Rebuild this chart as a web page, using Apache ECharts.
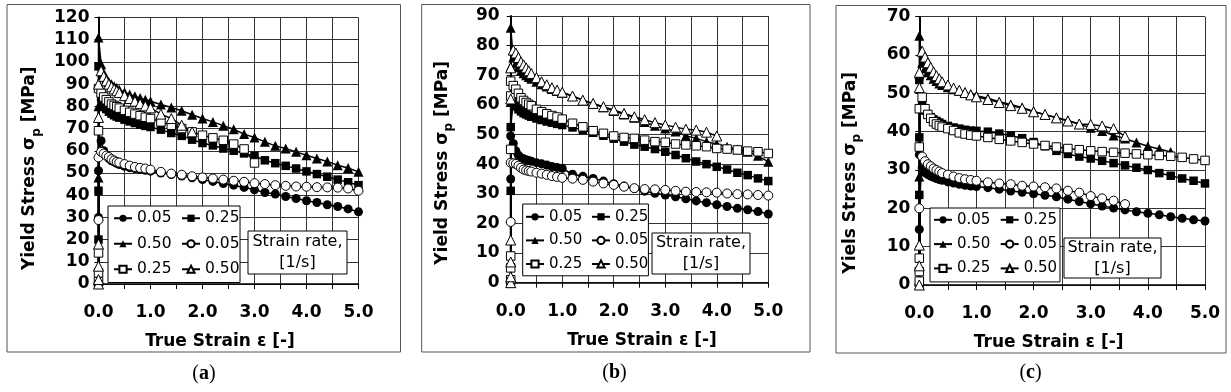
<!DOCTYPE html>
<html>
<head>
<meta charset="utf-8">
<script src="https://cdn.jsdelivr.net/npm/echarts@6/dist/echarts.min.js"></script>
<style>html,body{margin:0;padding:0;background:#fff;}#c{width:1231px;height:392px;}</style>
</head>
<body>
<div id="c"></div>
<script>
// Shared strain grid for the plastic part of every curve
const strainGrid = [0.05,0.1,0.15,0.2,0.25,0.3,0.35,0.4,0.5,0.6,0.7,0.8,0.9,1.0,1.2,1.4,1.6,1.8,2.0,2.2,2.4,2.6,2.8,3.0,3.2,3.4,3.6,3.8,4.0,4.2,4.4,4.6,4.8,5.0];
const legendLabels = ['0.05','0.25','0.50','0.05','0.25','0.50'];
const xTicks = [0,1,2,3,4,5];
const yMaxA = 120, yMaxB = 90, yMaxC = 70;
const yTitles = ['Yield Stress σ', 'Yield Stress σ', 'Yiels Stress σ'];
const panelLetters = ['a','b','c'];

// Panel (a): stress at strain 0 (elastic ramp) and along strainGrid
const aRamp_f005 = [0, 30, 51];
const aCurve_f005 = [64.5,60,58,56.5,55.5,55,54.3,53.8,53,52.4,52,51.6,51.2,50.8,50,49.3,48.6,47.8,47,46.2,45.2,44.5,43.5,42.4,41.2,40.5,39.4,38.5,37.5,36.7,35.7,34.9,33.8,32.5];
const aRamp_f025 = [0, 20, 42, 98];
const aCurve_f025 = [84,80.5,78.8,77.6,76.7,76,75.4,74.9,74,73.2,72.5,71.8,71.2,70.7,69.5,68,66.7,65,63.5,62.4,61,60,58.8,57.7,55.7,54.4,53.2,52,50.7,49.5,48.3,47,45.8,44.5];
const aRamp_f050 = [0, 31, 48, 80, 111];
const aCurve_f050 = [99,95,92.5,91,90,89,88.2,87.5,86.3,85.3,84.5,83.7,83,82.3,80.8,79.5,78,76.2,74.5,73,71.3,69.7,67.5,66,64,62.2,61,59.5,58,56.5,55.2,53.5,52.2,50.5];
const aRamp_o005 = [0, 28.8, 57];
const aCurve_o005 = [59.5,58.7,57.8,57.2,56.2,55.6,55,54.7,54,53.3,52.7,52.3,52,51.5,50.5,49.7,49.2,48.5,48,47.5,47,46.5,46,45.4,45,44.5,44.2,43.9,43.8,43.6,43.5,43.4,43,42];
const aRamp_o025 = [1, 5, 14, 69, 88];
const aCurve_o025 = [86,84.2,83,82,81,80.4,79.8,79.2,78.2,77.3,76.5,75.8,75.1,74.5,73,71.5,70,68.5,67,65.8,64.7,63,60.8,54.5];
const aRamp_o050 = [0, 2, 8, 18, 75, 90];
const aCurve_o050 = [96,93.5,91.5,90,88.8,87.8,87,86.2,84.8,83.5,82.3,81.2,80.2,79.3,76.5,74.5,71.5,68.5];

// Panel (b)
const bRamp_f005 = [0, 35, 49.5];
const bCurve_f005 = [47,44.5,43,42.2,41.8,41.5,41.2,41,40.5,40.1,39.7,39.2,38.9,38.6,36.6,35.9,35.2,34.3,33.4,32.6,31.8,30.9,30.2,29.6,29,28.3,27.6,27,26.3,25.7,25.1,24.6,24,23.2];
const bRamp_f025 = [0, 31, 52.5];
const bCurve_f025 = [61,59.5,58.5,57.8,57.2,56.8,56.4,56,55.4,54.9,54.4,54,53.6,53.2,52.4,51.5,50.6,49.6,48.6,47.6,46.6,45.9,45.1,44.2,43.1,42,40.9,40,39.1,38.2,37.1,36.3,35.2,34.3];
const bRamp_f050 = [0, 61, 73, 86];
const bCurve_f050 = [76,74,72.7,71.5,70.7,70,69.4,68.8,67.8,67,66.2,65.4,64.7,64,63,61.6,60.3,59.2,57.9,56.8,55.7,54.2,53,52,51,49.6,48.7,47.6,46.8,45.9,45,44.2,42.8,40.8];
const bRamp_o005 = [0, 20.5, 40.5];
const bCurve_o005 = [40.3,40.1,39.5,38.8,38.2,37.9,37.7,37.5,37.1,36.8,36.4,36,35.7,35.4,35.1,34.7,34.1,33.5,33,32.4,31.9,31.6,31.5,31.3,31,30.7,30.6,30.5,30.4,30.1,29.9,29.8,29.6,29.4];
const bRamp_o025 = [1, 5, 9, 45, 63, 68];
const bCurve_o025 = [66.5,65.3,63.9,62.4,61.5,60.8,60.2,59.7,58.5,57.7,57,56.4,55.9,55.2,53.8,52.6,51.3,50.4,49.5,49,48.7,48.1,47.6,47.4,46.8,46.5,46.2,45.9,45.3,45.1,44.8,44.4,44.2,43.6];
const bRamp_o050 = [0, 2, 7, 14.4, 62, 72.5];
const bCurve_o050 = [78.5,77.5,76,74.5,73.5,72.5,71.5,70.6,69.2,67.8,66.8,65.8,65,64.3,63,61.6,60.5,59.4,58.3,57.1,56,55,54,53.2,52.5,51.8,51.5,50.8,49.5];

// Panel (c)
const cRamp_f005 = [0, 14.5, 34];
const cCurve_f005 = [30.5,29.3,28.8,28.4,28.1,27.8,27.5,27.3,26.9,26.6,26.3,26,25.8,25.7,25.4,25,24.5,24.2,23.8,23.4,23,22.4,21.8,21.2,20.6,20.1,19.6,19.1,18.7,18.3,17.8,17.4,17,16.7];
const cRamp_f025 = [0, 23.5, 38.5, 53.5];
const cCurve_f025 = [47,45.5,44.5,43.8,43.2,42.8,42.4,42,41.5,41.1,40.8,40.5,40.3,40.2,40,39.5,39,38.3,37.3,36.2,35,34.2,33.5,33,32.4,31.8,31.2,30.6,30,29.2,28.5,27.8,27.2,26.5];
const cRamp_f050 = [0, 28.3, 55, 65];
const cCurve_f050 = [58,56.5,55.5,54.7,53.8,53.2,52.6,52.2,51.6,51.1,50.7,50.2,49.8,49.4,48.7,47.8,47.1,46.3,45.3,44.4,43.7,42.9,42,41,40.2,39,38.2,37.2,36.2,35.5,34.7];
const cRamp_o005 = [0, 20];
const cCurve_o005 = [33.5,32.3,31.5,31,30.4,30,29.6,29.2,28.8,28.3,27.9,27.6,27.4,27.2,26.8,26.5,26.3,25.9,25.7,25.5,25.2,24.6,24.1,23.2,22.6,22,21.1];
const cRamp_o025 = [1, 3.5, 7, 36, 46];
const cCurve_o025 = [49,46,44.5,43.5,42.6,42,41.6,41.2,40.8,40.3,39.7,39.4,39.1,38.9,38.5,38,37.6,37.2,36.8,36.4,36,35.6,35.3,35,34.8,34.6,34.4,34.2,34,33.8,33.6,33.3,32.9,32.5];
const cRamp_o050 = [0, 5, 10.4, 51.5, 55.5];
const cCurve_o050 = [61,59.5,58,56.8,55.6,54.6,53.8,53,52.2,51.4,50.8,50.2,49.6,49.1,48.4,47.6,46.8,46.1,45.2,44.5,43.6,42.8,42,41.9,41.5,40.8,38.8];

// ---------- build ----------
function buildData(ramp, curve) {
  return ramp.map(v => [0, v]).concat(curve.map((v, i) => [strainGrid[i], v]));
}
const panels = [
  {ramps:[aRamp_f005,aRamp_f025,aRamp_f050,aRamp_o005,aRamp_o025,aRamp_o050],
   curves:[aCurve_f005,aCurve_f025,aCurve_f050,aCurve_o005,aCurve_o025,aCurve_o050], ymax:yMaxA},
  {ramps:[bRamp_f005,bRamp_f025,bRamp_f050,bRamp_o005,bRamp_o025,bRamp_o050],
   curves:[bCurve_f005,bCurve_f025,bCurve_f050,bCurve_o005,bCurve_o025,bCurve_o050], ymax:yMaxB},
  {ramps:[cRamp_f005,cRamp_f025,cRamp_f050,cRamp_o005,cRamp_o025,cRamp_o050],
   curves:[cCurve_f005,cCurve_f025,cCurve_f050,cCurve_o005,cCurve_o025,cCurve_o050], ymax:yMaxC}
];

// layout
const gridsPx = [
  {left:98.5, top:17.5, width:260, height:266.5},
  {left:510.7, top:16, width:257.6, height:266.7},
  {left:919.3, top:16.7, width:285.7, height:268.3}
];
const framesPx = [[7,4.5,393.5,347.5],[421.7,4.5,388.3,347.5],[836,5.5,390,347.5]];
const legendPos = [[108,206],[522.7,204],[930,208]];
const legendStyle = [
  {font:15.5, gap:9.5, tpad:5, pad:[4.25,0.5,5.25,5]},
  {font:15, gap:8.6, tpad:3, pad:[5.3,0,4.3,2.3]},
  {font:15, gap:9.3, tpad:3, pad:[4.3,2.9,6,3]}
];
const rateBox = [[248,231,99,43],[652,233,98,41],[1064,238,97,40]];
const letterPos = [[204,374],[614.5,373],[1030.5,373]];
const yLabelMargin = [9, 11, 9];
const yNamePad = [35, 27, 44];
const xNamePad = [[0,17,0,0],[0,0,0,5],[0,27,0,0]];

const FONT = 'DejaVu Sans';
const symbols = ['circle','rect','triangle','circle','rect','triangle'];
const symSizes = [9,8.5,10,9,8.5,10];

const grid = [], xAxis = [], yAxis = [], series = [], legend = [], graphic = [];
panels.forEach((p, pi) => {
  grid.push(Object.assign({outerBoundsMode:'none', containLabel:false}, gridsPx[pi]));
  xAxis.push({
    gridIndex: pi, type:'value', min: xTicks[0], max: xTicks[xTicks.length-1], interval: 1,
    axisLine:{show:true, onZero:false, lineStyle:{color:'#000', width:1.5}},
    axisTick:{show:true, inside:false, length:5, lineStyle:{color:'#000', width:1}},
    minorTick:{show:true, splitNumber:2, length:5, lineStyle:{color:'#000', width:1}},
    splitLine:{show:true, lineStyle:{color:'#333', width:1}},
    minorSplitLine:{show:true, lineStyle:{color:'#333', width:1}},
    axisLabel:{formatter: v => v.toFixed(1), fontFamily:FONT, fontWeight:'bold', fontSize:17, color:'#000', margin:20},
    name:'True Strain ε [-]', nameLocation:'middle', nameGap:49,
    nameTextStyle:{fontFamily:FONT, fontWeight:'bold', fontSize:17, color:'#000', padding:xNamePad[pi]}
  });
  yAxis.push({
    gridIndex: pi, type:'value', min:0, max:p.ymax, interval:10,
    axisLine:{show:true, onZero:false, lineStyle:{color:'#000', width:2}},
    axisTick:{show:true, inside:false, length:4, lineStyle:{color:'#000', width:1}},
    splitLine:{show:true, lineStyle:{color:'#333', width:1}},
    axisLabel:{fontFamily:FONT, fontWeight:'bold', fontSize:17, color:'#000', margin:yLabelMargin[pi]},
    name:'{t|' + yTitles[pi] + '}{s|p}{t| [MPa]}', nameLocation:'middle', nameRotate:90, nameGap:56,
    nameTextStyle:{padding:[0, yNamePad[pi], 0, 0], rich:{
      t:{fontFamily:FONT, fontWeight:'bold', fontSize:17, color:'#000', lineHeight:25},
      s:{fontFamily:FONT, fontWeight:'bold', fontSize:12, color:'#000', lineHeight:12, verticalAlign:'bottom'}
    }}
  });
  const names = [];
  for (let k = 0; k < 6; k++) {
    const open = k >= 3;
    const nm = panelLetters[pi] + k;
    names.push(nm);
    series.push({
      name: nm, type:'line', xAxisIndex: pi, yAxisIndex: pi,
      data: buildData(p.ramps[k], p.curves[k]),
      symbol: symbols[k], symbolSize: symSizes[k], showAllSymbol: true, clip: false,
      lineStyle:{color:'#000', width:1.5},
      itemStyle: open ? {color:'#fff', borderColor:'#000', borderWidth:1} : {color:'#000', borderColor:'#000', borderWidth:0},
      emphasis:{disabled:true}, z: open ? 3 : 2
    });
  }
  const ls = legendStyle[pi];
  legend.push({
    data: names, left: legendPos[pi][0], top: legendPos[pi][1], width: 140, orient:'horizontal',
    itemWidth: 18, itemHeight: 9, itemGap: ls.gap, padding: ls.pad,
    borderColor:'#000', borderWidth:1, backgroundColor:'#fff', borderRadius:0,
    formatter: name => legendLabels[+name.slice(1)],
    textStyle:{fontFamily:FONT, fontSize:ls.font, color:'#000', padding:[0, ls.tpad, 0, 0]},
    selectedMode:false, z: 10
  });
  const rb = rateBox[pi];
  graphic.push({type:'rect', z:100, shape:{x:rb[0], y:rb[1], width:rb[2], height:rb[3]},
    style:{fill:'#fff', stroke:'#000', lineWidth:1}});
  graphic.push({type:'text', z:101, style:{x: rb[0] + rb[2]/2, y: rb[1] + rb[3]/2, text:'Strain rate,\n[1/s]',
    align:'center', verticalAlign:'middle', lineHeight:21, font:'16px "DejaVu Sans"', fill:'#000'}});
  const fr = framesPx[pi];
  graphic.push({type:'rect', z:0, silent:true, shape:{x:fr[0], y:fr[1], width:fr[2], height:fr[3]},
    style:{fill:'none', stroke:'#555', lineWidth:1}});
  graphic.push({type:'text', z:100, style:{x: letterPos[pi][0], y: letterPos[pi][1],
    text:'{n|(}{b|' + panelLetters[pi] + '}{n|)}', align:'center', verticalAlign:'middle',
    rich:{n:{fontFamily:'Liberation Serif', fontSize:20, fill:'#000'}, b:{fontFamily:'Liberation Serif', fontWeight:'bold', fontSize:20, fill:'#000'}}}});
});

const chart = echarts.init(document.getElementById('c'), null, {renderer:'canvas'});
chart.setOption({animation:false, backgroundColor:'#fff', grid, xAxis, yAxis, series, legend, graphic});
</script>
</body>
</html>
